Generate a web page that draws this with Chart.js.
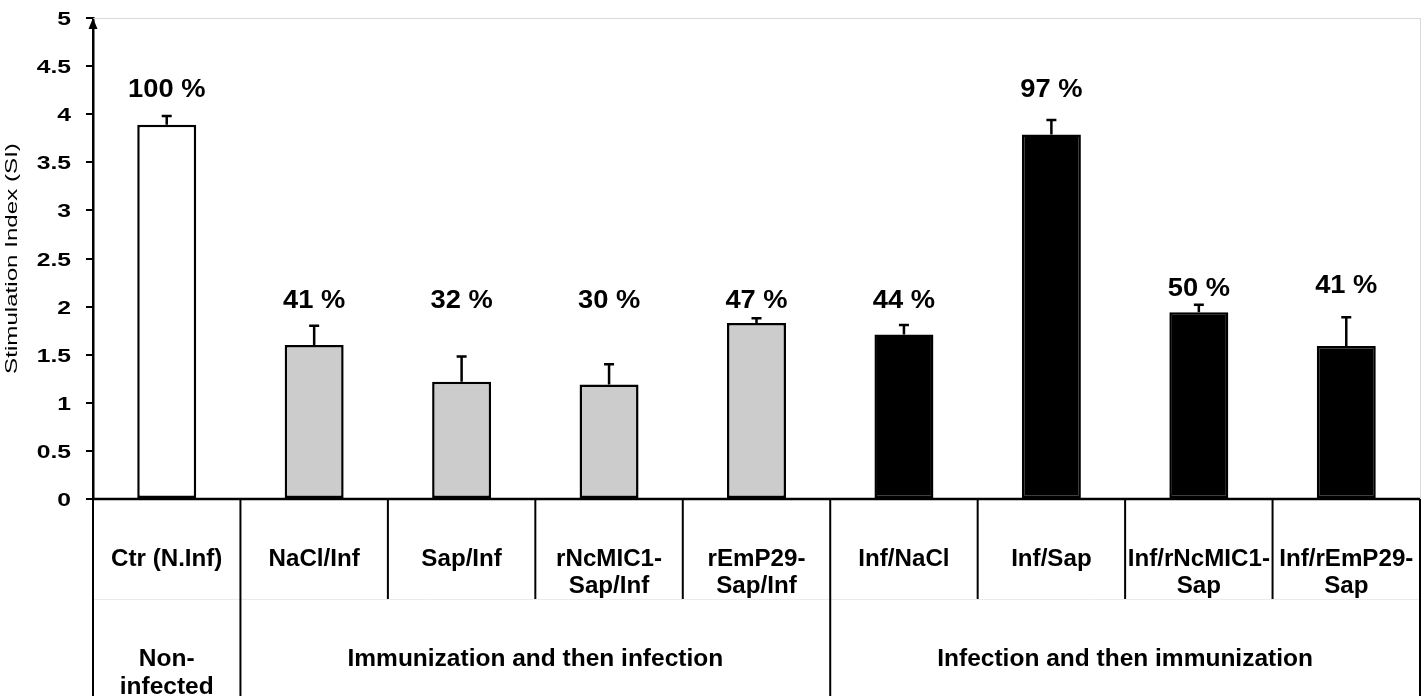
<!DOCTYPE html>
<html>
<head>
<meta charset="utf-8">
<script src="https://cdn.jsdelivr.net/npm/chart.js@4"></script>
<style>
  body { margin: 0; background: #fff; }
</style>
</head>
<body>
<canvas id="siChart" width="1427" height="696"></canvas>
<script>
// data
const categories = [
  ['Ctr (N.Inf)'], ['NaCl/Inf'], ['Sap/Inf'], ['rNcMIC1-', 'Sap/Inf'], ['rEmP29-', 'Sap/Inf'],
  ['Inf/NaCl'], ['Inf/Sap'], ['Inf/rNcMIC1-', 'Sap'], ['Inf/rEmP29-', 'Sap']
];
const siValues = [3.89, 1.60, 1.22, 1.19, 1.83, 1.71, 3.79, 1.94, 1.59];
const siErrors = [0.09, 0.20, 0.26, 0.21, 0.05, 0.10, 0.15, 0.08, 0.30];
const percentLabels = ['100 %', '41 %', '32 %', '30 %', '47 %', '44 %', '97 %', '50 %', '41 %'];
const percentAt = [4.18, 1.99, 1.99, 1.99, 1.99, 1.99, 4.18, 2.11, 2.14];  // baseline of the label, in SI units
const groupNames = [['Non-', 'infected'], ['Immunization and then infection'], ['Infection and then immunization']];
const groupSpans = [1, 4, 4];
const groupFills = ['#ffffff', '#cccccc', '#000000'];
const yTicks = [0, 0.5, 1, 1.5, 2, 2.5, 3, 3.5, 4, 4.5, 5];
const yTitle = 'Stimulation Index (SI)';

const barFills = [];
groupSpans.forEach((n, g) => { for (let i = 0; i < n; i++) barFills.push(groupFills[g]); });

const FONT = 'Arial, "Liberation Sans", sans-serif';

// text in the figure is a bit wider than plain Arial
function wideText(ctx, text, x, y, sx, align) {
  ctx.save();
  ctx.translate(x, y);
  ctx.scale(sx, 1);
  ctx.textAlign = align || 'center';
  ctx.fillText(text, 0, 0);
  ctx.restore();
}

// error bars, labels, axis arrow and the category table underneath
const extras = {
  id: 'extras',
  afterDatasetsDraw(chart) {
    const ctx = chart.ctx;
    const x = chart.scales.x, y = chart.scales.y;
    const area = chart.chartArea;
    const y0 = y.getPixelForValue(0);
    ctx.save();
    ctx.textBaseline = 'alphabetic';

    // error bars
    ctx.strokeStyle = '#000';
    ctx.lineWidth = 2.5;
    siValues.forEach((v, i) => {
      const cx = x.getPixelForValue(i);
      const top = y.getPixelForValue(v + siErrors[i]);
      ctx.beginPath();
      ctx.moveTo(cx, y.getPixelForValue(v));
      ctx.lineTo(cx, top);
      ctx.moveTo(cx - 5, top);
      ctx.lineTo(cx + 5, top);
      ctx.stroke();
    });

    // percentage labels
    ctx.fillStyle = '#000';
    ctx.font = 'bold 26px ' + FONT;
    percentLabels.forEach((t, i) => {
      wideText(ctx, t, x.getPixelForValue(i), y.getPixelForValue(percentAt[i]), 1.05);
    });

    // y tick labels
    ctx.font = 'bold 19px ' + FONT;
    yTicks.forEach(v => {
      wideText(ctx, String(v), area.left - 22, y.getPixelForValue(v) + 7, 1.3, 'right');
    });

    // y title
    ctx.font = '17px ' + FONT;
    ctx.save();
    ctx.translate(17, (area.top + y0) / 2);
    ctx.rotate(-Math.PI / 2);
    wideText(ctx, yTitle, 0, 0, 1.42);
    ctx.restore();

    // faint frame top / right
    ctx.strokeStyle = '#d9d9d9';
    ctx.lineWidth = 1;
    ctx.beginPath();
    ctx.moveTo(area.left, area.top + 0.5);
    ctx.lineTo(area.right, area.top + 0.5);
    ctx.moveTo(area.right + 0.5, area.top);
    ctx.lineTo(area.right + 0.5, y0);
    ctx.stroke();

    // arrow on y axis
    ctx.fillStyle = '#000';
    ctx.beginPath();
    ctx.moveTo(area.left, area.top);
    ctx.lineTo(area.left - 4.5, area.top + 11);
    ctx.lineTo(area.left + 4.5, area.top + 11);
    ctx.closePath();
    ctx.fill();

    // x axis line
    ctx.strokeStyle = '#000';
    ctx.lineWidth = 2.5;
    ctx.beginPath();
    ctx.moveTo(area.left, y0);
    ctx.lineTo(area.right, y0);
    ctx.stroke();

    // table
    const half = (x.getPixelForValue(1) - x.getPixelForValue(0)) / 2;
    const rowEnd = y0 + 100;
    const bottom = chart.height;

    ctx.strokeStyle = '#ebebeb';
    ctx.lineWidth = 1;
    ctx.beginPath();
    ctx.moveTo(area.left, rowEnd + 0.5);
    ctx.lineTo(area.right, rowEnd + 0.5);
    ctx.stroke();

    ctx.strokeStyle = '#000';
    ctx.lineWidth = 2;
    let idx = 0;
    const bounds = [0];
    groupSpans.forEach(n => { idx += n; bounds.push(idx); });
    for (let i = 0; i <= categories.length; i++) {
      const lx = i === 0 ? area.left : (i === categories.length ? area.right : x.getPixelForValue(i) - half);
      const full = bounds.includes(i);
      ctx.beginPath();
      ctx.moveTo(lx, y0);
      ctx.lineTo(lx, full ? bottom : rowEnd);
      ctx.stroke();
    }

    ctx.fillStyle = '#000';
    ctx.font = 'bold 23px ' + FONT;
    categories.forEach((lines, i) => {
      const cx = x.getPixelForValue(i);
      lines.forEach((t, k) => wideText(ctx, t, cx, y0 + 67 + k * 27, 1.05));
    });

    ctx.font = 'bold 24.5px ' + FONT;
    groupNames.forEach((lines, g) => {
      const a = bounds[g], b = bounds[g + 1];
      const cx = (x.getPixelForValue(a) + x.getPixelForValue(b - 1)) / 2;
      lines.forEach((t, k) => wideText(ctx, t, cx, y0 + 167 + k * 28, 1.0));
    });

    ctx.restore();
  }
};

new Chart(document.getElementById('siChart'), {
  type: 'bar',
  data: {
    labels: categories,
    datasets: [{
      data: siValues,
      backgroundColor: barFills,
      borderColor: '#000',
      borderWidth: 2.5,
      borderSkipped: false,
      barPercentage: 0.4,
      categoryPercentage: 1
    }]
  },
  options: {
    responsive: false,
    animation: false,
    layout: { padding: { top: 18, right: 7, bottom: 197, left: 0 } },
    plugins: { legend: { display: false }, tooltip: { enabled: false } },
    scales: {
      x: { display: false },
      y: {
        min: 0,
        max: 5,
        afterFit(scale) { scale.width = 93; },
        afterBuildTicks(scale) { scale.ticks = yTicks.map(v => ({ value: v })); },
        grid: { drawOnChartArea: false, drawTicks: true, tickLength: 7, color: '#000', lineWidth: 2 },
        border: { display: true, color: '#000', width: 2.5 },
        ticks: { display: false }
      }
    }
  },
  plugins: [extras]
});
</script>
</body>
</html>
